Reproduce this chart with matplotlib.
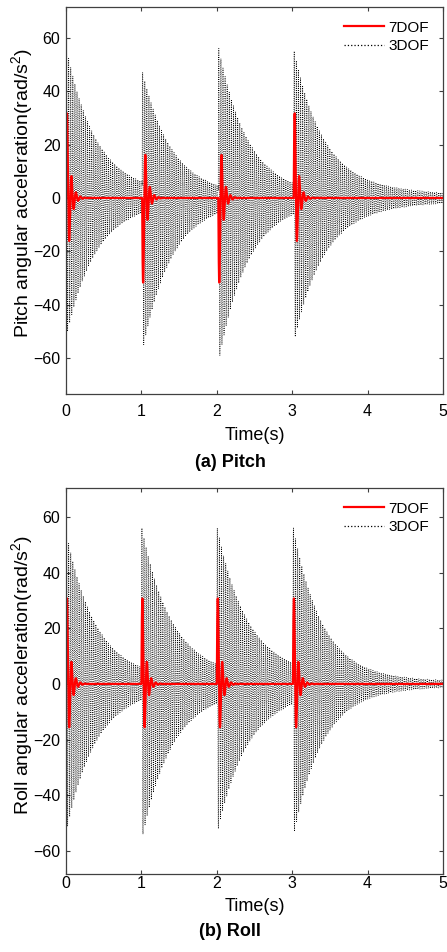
import numpy as np
import matplotlib
matplotlib.use('Agg')
import matplotlib.pyplot as plt
from matplotlib.lines import Line2D

plt.rcParams['font.family'] = ['Liberation Sans', 'DejaVu Sans']
plt.rcParams['mathtext.fontset'] = 'custom'
plt.rcParams['mathtext.rm'] = 'Liberation Sans'
plt.rcParams['mathtext.it'] = 'Liberation Sans:italic'

# ---------------- data ----------------
t_start, t_end, t_step = 0.0, 5.0, 0.0005

pitch_impacts = [0.0, 1.01, 2.02, 3.02]          # s
roll_impacts = [0.0, 1.00, 2.00, 3.01]           # s

# 3DOF response: largest positive / negative value after each impact (rad/s^2)
pitch_3dof_pos = [56, 47, 56, 55]
pitch_3dof_neg = [-50, -55, -59, -52]
roll_3dof_pos = [54, 56, 56, 56]
roll_3dof_neg = [-51, -54, -52, -53]
dof3_freq = 36.0                   # Hz, ringing
dof3_rates = [2.6, 0.55]           # 1/s, fast and slow decay
dof3_fast_share = 0.93

# 7DOF response: signed first peak of each impact (rad/s^2)
pitch_7dof_first = [31, -31, -31, 31]
roll_7dof_first = [30, 30, 30, 30]
dof7_freq = 17.0                   # Hz
dof7_rate = 23.0                   # 1/s

xticks = [0, 1, 2, 3, 4, 5]
yticks = [-60, -40, -20, 0, 20, 40, 60]
pitch_ylim = (-73.5, 71.6)
roll_ylim = (-68.3, 70.4)


def envelope(tau):
    tau = np.maximum(tau, 0.0)
    return dof3_fast_share * np.exp(-dof3_rates[0] * tau) + \
        (1 - dof3_fast_share) * np.exp(-dof3_rates[1] * tau)


def burst_parts(t, t0):
    tau = t - t0
    on = tau >= 0
    tc = np.where(on, tau, 0.0)
    u = np.where(on, envelope(tc) * np.sin(2 * np.pi * dof3_freq * tc), 0.0)
    return np.where(u > 0, u, 0.0), np.where(u < 0, u, 0.0)


def dof3_signal(t, impacts, pos, neg):
    y = np.zeros_like(t)
    for t0, p, n in zip(impacts, pos, neg):
        up, un = burst_parts(t, t0)
        win = (t >= t0) & (t <= t0 + 0.1)
        sp, sn = float(p), float(-n)
        # match the largest values seen after this impact, residual included
        for _ in range(6):
            total = y + sp * up + sn * un
            sp += (p - total[win].max())
            sn += (total[win].min() - n)
        y = y + sp * up + sn * un
    return y


def dof7_signal(t, impacts, first):
    y = np.zeros_like(t)
    tp = 1 / (4 * dof7_freq)
    for t0, a in zip(impacts, first):
        tau = t - t0
        on = tau >= 0
        tc = np.where(on, tau, 0.0)
        s = np.sign(a) * np.exp(-dof7_rate * tc) * np.sin(2 * np.pi * dof7_freq * tc)
        y += np.where(on, abs(a) / np.exp(-dof7_rate * tp) * s, 0.0)
    return y


t = np.arange(t_start, t_end + t_step / 2, t_step)

W, H = 447, 952
fig = plt.figure(figsize=(W / 100, H / 100), dpi=100)

panels = [
    dict(rect=[66 / W, 1 - 394 / H, 377 / W, 387 / H], impacts=pitch_impacts,
         pos=pitch_3dof_pos, neg=pitch_3dof_neg, first=pitch_7dof_first,
         ylim=pitch_ylim, ylabel='Pitch angular acceleration(rad/s$^2$)',
         caption='(a) Pitch', cap_y=462, xpad=7, xlab_y=-0.085, ylab_y=0.518),
    dict(rect=[66 / W, 1 - 874 / H, 377 / W, 386 / H], impacts=roll_impacts,
         pos=roll_3dof_pos, neg=roll_3dof_neg, first=roll_7dof_first,
         ylim=roll_ylim, ylabel='Roll angular acceleration(rad/s$^2$)',
         caption='(b) Roll', cap_y=931, xpad=1.5, xlab_y=-0.062, ylab_y=0.516),
]

axcol = '#404040'
for p in panels:
    ax = fig.add_axes(p['rect'])
    y3 = dof3_signal(t, p['impacts'], p['pos'], p['neg'])
    y7 = dof7_signal(t, p['impacts'], p['first'])
    ax.plot(t, y3, color='black', linestyle=':', linewidth=0.6)
    ax.plot(t, y7, color='#ff0000', linestyle='-', linewidth=1.6)
    ax.set_xlim(t_start, t_end)
    ax.set_ylim(*p['ylim'])
    ax.set_xticks(xticks)
    ax.set_yticks(yticks)
    ax.tick_params(direction='in', top=True, right=True, length=3,
                   width=0.8, colors=axcol, labelsize=11.5, labelcolor='black')
    ax.tick_params(axis='x', pad=p['xpad'])
    ax.tick_params(axis='y', pad=4)
    for s in ax.spines.values():
        s.set_color(axcol)
        s.set_linewidth(0.9)
    ax.set_xlabel('Time(s)', fontsize=13)
    ax.xaxis.set_label_coords(0.5, p['xlab_y'])
    ax.set_ylabel(p['ylabel'], fontsize=14)
    ax.yaxis.set_label_coords(-0.082, p['ylab_y'])
    handles = [Line2D([], [], color='#ff0000', linewidth=1.6),
               Line2D([], [], color='black', linestyle=':', linewidth=0.9)]
    ax.legend(handles, ['7DOF', '3DOF'], loc='upper right', frameon=False,
              prop={'family': ['Liberation Sans'], 'size': 11},
              handlelength=2.6, handletextpad=0.3,
              labelspacing=0.3, borderaxespad=0.5)
    fig.text(230 / W, 1 - p['cap_y'] / H, p['caption'], ha='center',
             va='center', fontsize=13, fontweight='bold')

fig.savefig('out.png', dpi=100)
